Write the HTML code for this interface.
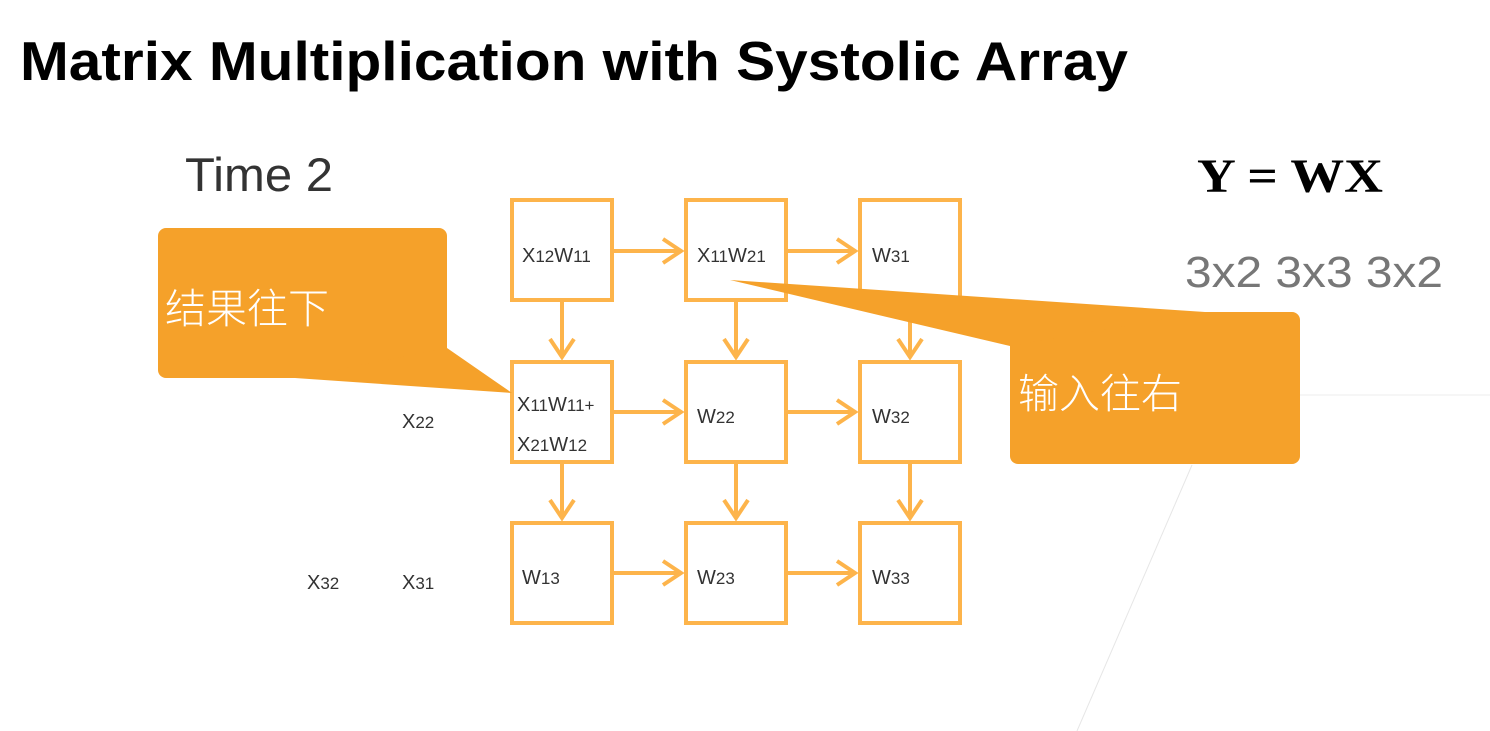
<!DOCTYPE html>
<html><head><meta charset="utf-8"><style>
body{margin:0;width:1490px;height:731px;background:#fff;overflow:hidden;position:relative;font-family:"Liberation Sans","Noto Sans CJK SC",sans-serif}
svg{position:absolute;left:0;top:0}
</style></head><body>
<svg width="1490" height="731" viewBox="0 0 1490 731">
<line x1="1300" y1="395" x2="1490" y2="395" stroke="#eee" stroke-width="1"/>
<line x1="1192" y1="465" x2="1077" y2="731" stroke="#e6e6e6" stroke-width="1"/>
<text x="20" y="80" font-family="Liberation Sans, sans-serif" font-size="55" font-weight="bold" fill="#000" textLength="1108" lengthAdjust="spacingAndGlyphs">Matrix Multiplication with Systolic Array</text>
<text x="185" y="191" font-size="47" fill="#333" textLength="148" lengthAdjust="spacingAndGlyphs">Time 2</text>
<text x="1197" y="192" font-family="Liberation Serif, serif" font-size="48" font-weight="bold" fill="#000" textLength="186" lengthAdjust="spacingAndGlyphs">Y = WX</text>
<text x="1185" y="287" font-size="44" fill="#777" textLength="258" lengthAdjust="spacingAndGlyphs">3x2  3x3 3x2</text>
<g fill="none" stroke="#FDB44B" stroke-width="4">
<rect x="512" y="200" width="100" height="100"/><rect x="686" y="200" width="100" height="100"/><rect x="860" y="200" width="100" height="100"/>
<rect x="512" y="362" width="100" height="100"/><rect x="686" y="362" width="100" height="100"/><rect x="860" y="362" width="100" height="100"/>
<rect x="512" y="523" width="100" height="100"/><rect x="686" y="523" width="100" height="100"/><rect x="860" y="523" width="100" height="100"/>
<path d="M612 251H681M663 239L681 251L663 263M786 251H855M837 239L855 251L837 263"/>
<path d="M612 412H681M663 400L681 412L663 424M786 412H855M837 400L855 412L837 424"/>
<path d="M612 573H681M663 561L681 573L663 585M786 573H855M837 561L855 573L837 585"/>
<path d="M562 300V357M550 339L562 357L574 339M736 300V357M724 339L736 357L748 339M910 300V357M898 339L910 357L922 339"/>
<path d="M562 462V518M550 500L562 518L574 500M736 462V518M724 500L736 518L748 500M910 462V518M898 500L910 518L922 500"/>
</g>
<g font-size="20" fill="#333">
<text x="522" y="262">X<tspan font-size="17">12</tspan>W<tspan font-size="17">11</tspan></text>
<text x="697" y="262">X<tspan font-size="17">11</tspan>W<tspan font-size="17">21</tspan></text>
<text x="872" y="262">W<tspan font-size="17">31</tspan></text>
<text x="517" y="411">X<tspan font-size="17">11</tspan>W<tspan font-size="17">11+</tspan></text>
<text x="517" y="451">X<tspan font-size="17">21</tspan>W<tspan font-size="17">12</tspan></text>
<text x="697" y="423">W<tspan font-size="17">22</tspan></text>
<text x="872" y="423">W<tspan font-size="17">32</tspan></text>
<text x="522" y="584">W<tspan font-size="17">13</tspan></text>
<text x="697" y="584">W<tspan font-size="17">23</tspan></text>
<text x="872" y="584">W<tspan font-size="17">33</tspan></text>
<text x="402" y="428">X<tspan font-size="17">22</tspan></text>
<text x="307" y="589">X<tspan font-size="17">32</tspan></text>
<text x="402" y="589">X<tspan font-size="17">31</tspan></text>
</g>
<g fill="#F5A12A">
<rect x="158" y="228" width="289" height="150" rx="8"/>
<polygon points="447,348 295,378 512,393"/>
<rect x="1010" y="312" width="290" height="152" rx="8"/>
<polygon points="1205,312 1010,346 730,280"/>
</g>
<text x="165" y="323" font-family="Noto Sans CJK SC, sans-serif" font-weight="300" font-size="41" fill="#fff">结果往下</text>
<text x="1018" y="408" font-family="Noto Sans CJK SC, sans-serif" font-weight="300" font-size="41" fill="#fff">输入往右</text>
</svg>
</body></html>
